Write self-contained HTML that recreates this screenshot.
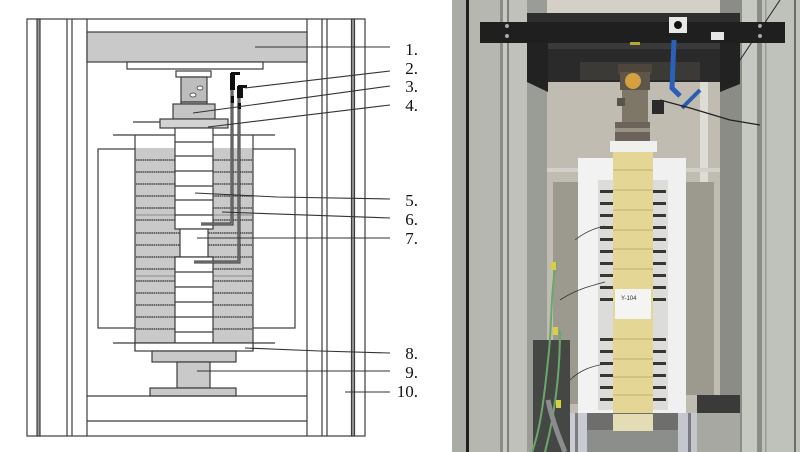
<!DOCTYPE html>
<html><head><meta charset="utf-8"><style>
html,body{margin:0;padding:0;background:#fff;}
svg{display:block;}
text{font-family:"Liberation Serif",serif;font-size:17px;fill:#111;}
</style></head><body>
<svg width="800" height="452" viewBox="0 0 800 452" xmlns="http://www.w3.org/2000/svg">
<rect width="800" height="452" fill="#fff"/>

<!-- ===== LEFT DIAGRAM ===== -->
<g stroke="#3c3c3c" stroke-width="1.2" fill="none">
  <rect x="27" y="19" width="338" height="417"/>
  <rect x="37" y="19" width="3" height="417" fill="#9a9a9a"/>
  <line x1="67" y1="19" x2="67" y2="436"/>
  <line x1="72" y1="19" x2="72" y2="436"/>
  <line x1="87" y1="19" x2="87" y2="436"/>
  <line x1="307" y1="19" x2="307" y2="436"/>
  <line x1="322" y1="19" x2="322" y2="436"/>
  <line x1="327" y1="19" x2="327" y2="436"/>
  <rect x="351.5" y="19" width="3" height="417" fill="#9a9a9a"/>

  <rect x="87" y="32" width="220" height="30" fill="#c9c9c9"/>
  <rect x="127" y="62" width="136" height="7" fill="#fff"/>
  <rect x="176" y="71" width="35" height="6" fill="#fff"/>
  <rect x="181" y="77" width="26" height="25" fill="#bdbdbd"/>
  <rect x="181" y="102" width="26" height="2" fill="#bdbdbd"/>
  <ellipse cx="200" cy="88" rx="3" ry="2" fill="#fff" stroke-width="0.8"/>
  <ellipse cx="193" cy="95" rx="3" ry="2" fill="#fff" stroke-width="0.8"/>
  <rect x="173" y="104" width="42" height="15" fill="#c4c4c4"/>
  <rect x="160" y="119" width="68" height="9" fill="#d3d3d3"/>
  <line x1="133" y1="122" x2="160" y2="122"/>
  <line x1="113" y1="135" x2="275" y2="135"/>

  <rect x="98" y="149" width="197" height="179" fill="#fff"/>
  <rect x="135" y="148" width="118" height="195" fill="#c9c9c9" stroke="none"/>
  <line x1="135" y1="135" x2="135" y2="351"/>
  <line x1="253" y1="135" x2="253" y2="351"/>
</g>
<g stroke="#4a4a4a" stroke-width="1.6" stroke-dasharray="1.6 0.6">
  <line x1="136" y1="160" x2="252" y2="160"/>
  <line x1="136" y1="172" x2="252" y2="172"/>
  <line x1="136" y1="184" x2="252" y2="184"/>
  <line x1="136" y1="196" x2="252" y2="196"/>
  <line x1="136" y1="208" x2="252" y2="208"/>
  <line x1="136" y1="220" x2="252" y2="220"/>
  <line x1="136" y1="233" x2="252" y2="233"/>
  <line x1="136" y1="245" x2="252" y2="245"/>
  <line x1="136" y1="257" x2="252" y2="257"/>
  <line x1="136" y1="269" x2="252" y2="269"/>
  <line x1="136" y1="281" x2="252" y2="281"/>
  <line x1="136" y1="293" x2="252" y2="293"/>
  <line x1="136" y1="305" x2="252" y2="305"/>
  <line x1="136" y1="317" x2="252" y2="317"/>
  <line x1="136" y1="329" x2="252" y2="329"/>
</g>
<g stroke="#8a8a8a" stroke-width="1">
  <line x1="136" y1="215" x2="252" y2="215"/>
  <line x1="136" y1="276" x2="252" y2="276"/>
</g>
<g stroke="#3c3c3c" stroke-width="1.2" fill="none">
  <rect x="175" y="128" width="38" height="101" fill="#fff"/>
  <line x1="175" y1="142" x2="213" y2="142"/>
  <line x1="175" y1="156" x2="213" y2="156"/>
  <line x1="175" y1="171" x2="213" y2="171"/>
  <line x1="175" y1="186" x2="213" y2="186"/>
  <line x1="175" y1="200" x2="213" y2="200"/>
  <line x1="175" y1="215" x2="213" y2="215"/>
  <rect x="180" y="229" width="28" height="28" fill="#fff"/>
  <rect x="175" y="257" width="38" height="94" fill="#fff"/>
  <line x1="175" y1="272" x2="213" y2="272"/>
  <line x1="175" y1="287" x2="213" y2="287"/>
  <line x1="175" y1="302" x2="213" y2="302"/>
  <line x1="175" y1="317" x2="213" y2="317"/>
  <line x1="175" y1="332" x2="213" y2="332"/>
  <line x1="113" y1="343" x2="275" y2="343"/>
  <rect x="135" y="343" width="118" height="8" fill="#fff"/>
  <rect x="152" y="351" width="84" height="11" fill="#c9c9c9"/>
  <rect x="177" y="362" width="33" height="26" fill="#c9c9c9"/>
  <rect x="150" y="388" width="86" height="8" fill="#c9c9c9"/>
  <line x1="87" y1="396" x2="307" y2="396"/>
  <line x1="87" y1="421" x2="307" y2="421"/>
</g>
<g fill="none" stroke-linejoin="miter">
  <path d="M232 76 V224 H201" stroke="#333" stroke-width="3"/>
  <path d="M232 76 V224 H201" stroke="#9a9a9a" stroke-width="1"/>
  <path d="M239 88 V262 H194" stroke="#333" stroke-width="3"/>
  <path d="M239 88 V262 H194" stroke="#9a9a9a" stroke-width="1"/>
</g>
<g fill="#111">
  <rect x="230" y="73" width="5" height="17"/>
  <rect x="231" y="72" width="9" height="3"/>
  <rect x="237" y="86" width="6" height="12"/>
  <rect x="238" y="85" width="9" height="3"/>
  <rect x="230.5" y="96" width="3.5" height="7"/>
  <rect x="237.5" y="103" width="3.5" height="6"/>
</g>
<g stroke="#333" stroke-width="1.1" fill="none">
  <line x1="255" y1="47" x2="390" y2="47"/>
  <line x1="245" y1="88" x2="390" y2="71"/>
  <line x1="193" y1="113" x2="390" y2="86"/>
  <line x1="208" y1="127" x2="390" y2="105"/>
  <polyline points="195,193 277,197 390,199"/>
  <line x1="222" y1="212" x2="390" y2="218"/>
  <line x1="197" y1="238" x2="390" y2="238"/>
  <polyline points="245,348 320,351 390,353"/>
  <line x1="197" y1="371" x2="390" y2="371"/>
  <line x1="345" y1="392" x2="390" y2="392"/>
</g>
<g text-anchor="end">
  <text x="418" y="55">1.</text>
  <text x="418" y="74">2.</text>
  <text x="418" y="92">3.</text>
  <text x="418" y="111">4.</text>
  <text x="418" y="206">5.</text>
  <text x="418" y="225">6.</text>
  <text x="418" y="244">7.</text>
  <text x="418" y="359">8.</text>
  <text x="418" y="378">9.</text>
  <text x="418" y="397">10.</text>
</g>

<!-- ===== RIGHT PHOTO ===== -->
<g>
  <rect x="452" y="0" width="348" height="452" fill="#b3b4ae"/>
  <rect x="547" y="0" width="173" height="452" fill="#c1bcb2"/>
  <rect x="547" y="0" width="173" height="15" fill="#d4d0c8"/>
  <rect x="700" y="82" width="8" height="330" fill="#dedcd6"/>
  <rect x="547" y="168" width="173" height="4" fill="#d2d0ca"/>
  <rect x="452" y="0" width="14" height="452" fill="#a9aba5"/>
  <rect x="466" y="0" width="3" height="452" fill="#1e1e1e"/>
  <rect x="469" y="0" width="31" height="452" fill="#b6b7b1"/>
  <rect x="500" y="0" width="3" height="452" fill="#8a8c86"/>
  <rect x="503" y="0" width="4" height="452" fill="#c8c9c3"/>
  <rect x="507" y="0" width="2" height="452" fill="#7f817b"/>
  <rect x="509" y="0" width="18" height="452" fill="#c0c1bb"/>
  <rect x="527" y="0" width="20" height="452" fill="#9a9c96"/>
  <rect x="720" y="0" width="22" height="452" fill="#8c8c86"/>
  <rect x="742" y="0" width="15" height="452" fill="#c6c8c2"/>
  <rect x="757" y="0" width="5" height="452" fill="#8a8c86"/>
  <rect x="762" y="0" width="38" height="452" fill="#bfc1bb"/>
  <rect x="765" y="0" width="1.5" height="452" fill="#9a9c96"/>
  <rect x="794" y="0" width="2" height="452" fill="#6a6c68"/>
  <rect x="527" y="13" width="213" height="9" fill="#2e2e2e"/>
  <rect x="480" y="22" width="305" height="21" fill="#1f1f1f"/>
  <rect x="527" y="43" width="213" height="39" fill="#2a2a2a"/>
  <rect x="527" y="43" width="213" height="6" fill="#3a3a3a"/>
  <rect x="580" y="62" width="120" height="18" fill="#3c3a36"/>
  <polygon points="527,43 548,43 548,92 527,82" fill="#222"/>
  <polygon points="720,43 740,43 740,84 720,92" fill="#222"/>
  <circle cx="507" cy="26" r="2" fill="#aaa"/><circle cx="507" cy="36" r="2" fill="#aaa"/>
  <circle cx="760" cy="26" r="2" fill="#aaa"/><circle cx="760" cy="36" r="2" fill="#aaa"/>
  <rect x="669" y="17" width="18" height="16" fill="#e8e8e6"/>
  <circle cx="678" cy="25" r="4" fill="#111"/>
  <rect x="711" y="32" width="13" height="8" fill="#e6e6e6"/>
  <rect x="630" y="42" width="10" height="3" fill="#b8a830"/>
  <rect x="618" y="64" width="34" height="10" fill="#4e463a"/>
  <rect x="620" y="72" width="30" height="18" fill="#5e564a"/>
  <circle cx="633" cy="81" r="8" fill="#d4a040"/>
  <rect x="622" y="90" width="26" height="32" fill="#7e7666"/>
  <rect x="617" y="98" width="8" height="8" fill="#5a5448"/>
  <rect x="615" y="122" width="35" height="19" fill="#6c645a"/>
  <rect x="615" y="128" width="35" height="4" fill="#9a9284"/>
  <rect x="610" y="141" width="47" height="11" fill="#f0f0ee"/>
  <path d="M674 40 L672 88 L680 96" stroke="#2a60b8" stroke-width="5" fill="none"/>
  <path d="M682 108 L700 90" stroke="#2a5fb0" stroke-width="4" fill="none"/>
  <path d="M660 100 L690 108 L730 120 L760 125" stroke="#222" stroke-width="1.2" fill="none"/>
  <path d="M740 60 L780 0" stroke="#222" stroke-width="1" fill="none"/>
  <rect x="652" y="100" width="12" height="14" fill="#2a2a2a"/>
  <rect x="553" y="182" width="25" height="222" fill="#9c998f"/>
  <rect x="686" y="182" width="28" height="213" fill="#9c998f"/>
  <rect x="578" y="158" width="35" height="257" fill="#f2f2f2"/>
  <rect x="653" y="158" width="33" height="257" fill="#f0f0f0"/>
  <rect x="598" y="180" width="15" height="230" fill="#dcdcda"/>
  <rect x="653" y="180" width="15" height="230" fill="#dcdcda"/>
</g>
<g fill="#3a352e">
  <rect x="600" y="190" width="13" height="3"/><rect x="653" y="190" width="13" height="3"/>
  <rect x="600" y="202" width="13" height="3"/><rect x="653" y="202" width="13" height="3"/>
  <rect x="600" y="214" width="13" height="3"/><rect x="653" y="214" width="13" height="3"/>
  <rect x="600" y="226" width="13" height="3"/><rect x="653" y="226" width="13" height="3"/>
  <rect x="600" y="238" width="13" height="3"/><rect x="653" y="238" width="13" height="3"/>
  <rect x="600" y="250" width="13" height="3"/><rect x="653" y="250" width="13" height="3"/>
  <rect x="600" y="262" width="13" height="3"/><rect x="653" y="262" width="13" height="3"/>
  <rect x="600" y="274" width="13" height="3"/><rect x="653" y="274" width="13" height="3"/>
  <rect x="600" y="286" width="13" height="3"/><rect x="653" y="286" width="13" height="3"/>
  <rect x="600" y="298" width="13" height="3"/><rect x="653" y="298" width="13" height="3"/>
  <rect x="600" y="338" width="13" height="3"/><rect x="653" y="338" width="13" height="3"/>
  <rect x="600" y="350" width="13" height="3"/><rect x="653" y="350" width="13" height="3"/>
  <rect x="600" y="362" width="13" height="3"/><rect x="653" y="362" width="13" height="3"/>
  <rect x="600" y="374" width="13" height="3"/><rect x="653" y="374" width="13" height="3"/>
  <rect x="600" y="386" width="13" height="3"/><rect x="653" y="386" width="13" height="3"/>
  <rect x="600" y="398" width="13" height="3"/><rect x="653" y="398" width="13" height="3"/>
</g>
<g>
  <rect x="613" y="152" width="40" height="280" fill="#e4d694"/>
  <g stroke="#bfae78" stroke-width="1">
    <line x1="613" y1="170" x2="653" y2="170"/>
    <line x1="613" y1="190" x2="653" y2="190"/>
    <line x1="613" y1="210" x2="653" y2="210"/>
    <line x1="613" y1="230" x2="653" y2="230"/>
    <line x1="613" y1="249" x2="653" y2="249"/>
    <line x1="613" y1="269" x2="653" y2="269"/>
    <line x1="613" y1="339" x2="653" y2="339"/>
    <line x1="613" y1="359" x2="653" y2="359"/>
    <line x1="613" y1="377" x2="653" y2="377"/>
    <line x1="613" y1="395" x2="653" y2="395"/>
    <line x1="613" y1="414" x2="653" y2="414"/>
  </g>
  <rect x="615" y="289" width="36" height="30" fill="#f4f4f2"/>
  <text x="621" y="300" style="font-family:'Liberation Sans',sans-serif;font-size:6px;fill:#333;">Y-104</text>
  <rect x="587" y="413" width="91" height="39" fill="#6e6e6c"/>
  <rect x="587" y="430" width="91" height="22" fill="#8c8e8c"/>
  <rect x="613" y="414" width="40" height="17" fill="#e4dcb4"/>
  <rect x="570" y="413" width="17" height="39" fill="#c8ccd0"/>
  <rect x="575" y="413" width="3" height="39" fill="#7a7e82"/>
  <rect x="678" y="413" width="19" height="39" fill="#c4c8cc"/>
  <rect x="688" y="413" width="3" height="39" fill="#7a7e82"/>
  <rect x="697" y="395" width="43" height="18" fill="#3a3a38"/>
  <rect x="697" y="413" width="43" height="39" fill="#a8a8a2"/>
  <rect x="533" y="340" width="37" height="112" fill="#454744"/>
  <path d="M556 262 C550 300 552 330 548 360 C544 400 540 430 532 452" stroke="#6aa86a" stroke-width="2" fill="none"/>
  <path d="M560 330 C560 370 556 410 545 452" stroke="#6aa86a" stroke-width="2" fill="none"/>
  <path d="M548 400 C552 420 560 440 565 452" stroke="#8a8c8e" stroke-width="5" fill="none"/>
  <rect x="551" y="262" width="5" height="8" fill="#d8d040"/>
  <rect x="553" y="327" width="5" height="8" fill="#d8d040"/>
  <rect x="556" y="400" width="5" height="8" fill="#d8d040"/>
  <path d="M575 240 C585 232 595 228 605 226" stroke="#333" stroke-width="0.8" fill="none"/>
  <path d="M560 300 C575 290 590 286 605 282" stroke="#333" stroke-width="0.8" fill="none"/>
  <path d="M570 380 C580 370 592 366 605 364" stroke="#333" stroke-width="0.8" fill="none"/>
</g>
</svg>
</body></html>
